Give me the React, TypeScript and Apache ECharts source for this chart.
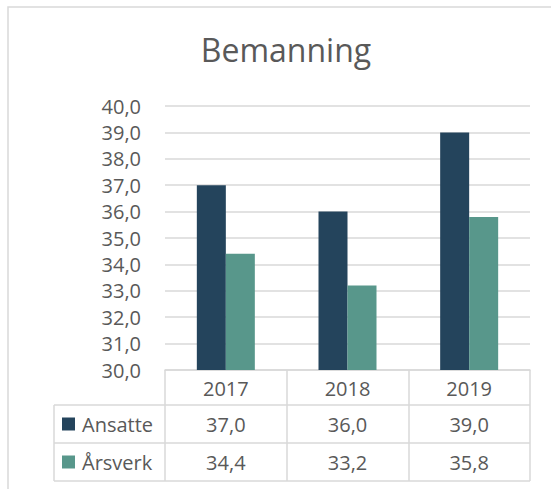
import React, { useEffect, useRef } from "react";
import * as echarts from "echarts";

const categories = ["2017", "2018", "2019"];
const seriesNames = ["Ansatte", "Årsverk"];
const ansatte = [37.0, 36.0, 39.0];
const aarsverk = [34.4, 33.2, 35.8];
const yMin = 30;
const yMax = 40;
const yInterval = 1;

const COLORS = ["#24445C", "#58978B"];
const TEXT = "#595959";
const LINE = "#d9d9d9";
const FONT = "'Open Sans', 'Noto Sans', sans-serif";
const FS = 20;

const fmt = (v: number) => v.toFixed(1).replace(".", ",");

export default function App() {
  const ref = useRef<HTMLDivElement>(null);
  useEffect(() => {
    if (!ref.current) return;
    const chart = echarts.init(ref.current, undefined, { renderer: "svg" });
    const gridLeft = 165;
    const gridRight = 21;
    const gridTop = 106;
    const gridBottom = 119;
    const W = 551;
    const tableLeft = 54;
    const rowTop = 405;
    const rowH = 38;
    chart.setOption({
      animation: false,
      backgroundColor: "#ffffff",
      textStyle: { fontFamily: FONT },
      title: {
        text: "Bemanning",
        left: 281,
        textAlign: "center",
        top: 28,
        textStyle: { fontFamily: FONT, fontSize: 32, fontWeight: "normal", color: TEXT },
      },
      grid: { left: gridLeft, right: gridRight, top: gridTop, bottom: gridBottom },
      xAxis: {
        type: "category",
        data: categories,
        axisLine: { show: true, lineStyle: { color: LINE, width: 1.5 } },
        axisTick: { show: true, length: 111, lineStyle: { color: LINE, width: 1.5 } },
        axisLabel: { fontFamily: FONT, fontSize: FS, color: TEXT, margin: 18, verticalAlign: "middle" },
      },
      yAxis: {
        type: "value",
        min: yMin,
        max: yMax,
        interval: yInterval,
        axisLine: { show: false },
        axisTick: { show: false },
        axisLabel: { fontFamily: FONT, fontSize: FS, color: TEXT, margin: 24, formatter: (v: number) => fmt(v) },
        splitLine: { lineStyle: { color: LINE, width: 1.5 } },
      },
      series: [
        { name: seriesNames[0], type: "bar", data: ansatte, itemStyle: { color: COLORS[0] }, barWidth: 29, barGap: "0%" },
        { name: seriesNames[1], type: "bar", data: aarsverk, itemStyle: { color: COLORS[1] }, barWidth: 29, barGap: "0%" },
      ],
    });

    const xs = categories.map((c) => chart.convertToPixel({ xAxisIndex: 0 }, c) as number);
    const rightX = W - gridRight;
    const rows = [ansatte, aarsverk];
    const graphics: any[] = [
      {
        type: "rect",
        silent: true,
        shape: { x: 8, y: 7, width: 600, height: 600 },
        style: { fill: "none", stroke: LINE, lineWidth: 1.5 },
      },
      { type: "line", shape: { x1: tableLeft, y1: rowTop, x2: rightX, y2: rowTop }, style: { stroke: LINE, lineWidth: 1.5 } },
      { type: "line", shape: { x1: tableLeft, y1: rowTop + rowH, x2: rightX, y2: rowTop + rowH }, style: { stroke: LINE, lineWidth: 1.5 } },
      { type: "line", shape: { x1: tableLeft, y1: rowTop + 2 * rowH, x2: rightX, y2: rowTop + 2 * rowH }, style: { stroke: LINE, lineWidth: 1.5 } },
      { type: "line", shape: { x1: tableLeft, y1: rowTop, x2: tableLeft, y2: rowTop + 2 * rowH }, style: { stroke: LINE, lineWidth: 1.5 } },
    ];
    rows.forEach((vals, r) => {
      const cy = rowTop + rowH * r + rowH / 2;
      graphics.push({
        type: "rect",
        shape: { x: 62, y: cy - 6.5, width: 13, height: 13 },
        style: { fill: COLORS[r] },
      });
      graphics.push({
        type: "text",
        x: 82,
        y: cy,
        style: { text: seriesNames[r], fontFamily: FONT, fontSize: FS, fill: TEXT, verticalAlign: "middle", align: "left" },
      });
      vals.forEach((v, i) => {
        graphics.push({
          type: "text",
          x: xs[i],
          y: cy,
          style: { text: fmt(v), fontFamily: FONT, fontSize: FS, fill: TEXT, verticalAlign: "middle", align: "center" },
        });
      });
    });
    chart.setOption({ graphic: graphics });
    return () => chart.dispose();
  }, []);
  return (
    <div
      ref={ref}
      style={{ position: "fixed", left: 0, top: 0, width: 551, height: 489 }}
    />
  );
}
